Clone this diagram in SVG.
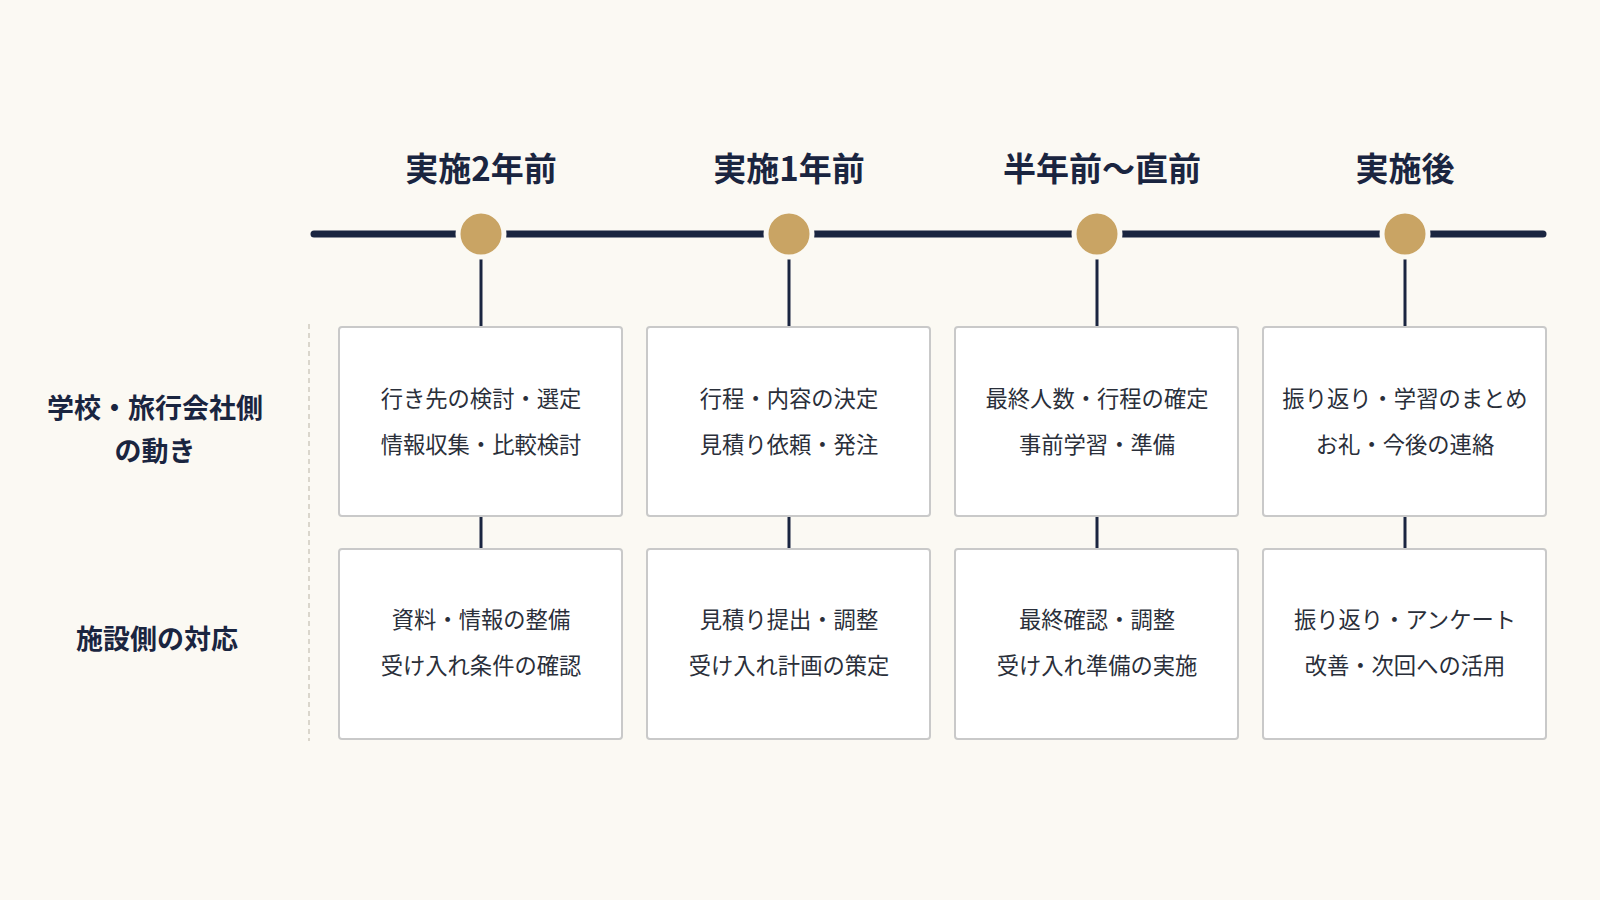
<svg xmlns="http://www.w3.org/2000/svg" width="1600" height="900" viewBox="0 0 1600 900">
<style>
text{font-family:"Noto Sans CJK JP","Noto Sans",sans-serif;text-anchor:middle;dominant-baseline:central}
.h{font-size:33px;font-weight:700;fill:#1a2540}
.l{font-size:27px;font-weight:700;fill:#1a2540}
.t{font-size:22.3px;fill:#2a2f3a}
.box{fill:#fff;stroke:#c9c9c9;stroke-width:2}
.ln{stroke:#1a2540;stroke-width:3}
</style>
<rect width="1600" height="900" fill="#fbf9f3"/>
<g id="connectors">
<line x1="314" y1="234" x2="1543" y2="234" stroke="#1a2540" stroke-width="7" stroke-linecap="round"/>
<line class="ln" x1="481" y1="234" x2="481" y2="327"/><line class="ln" x1="789" y1="234" x2="789" y2="327"/><line class="ln" x1="1097" y1="234" x2="1097" y2="327"/><line class="ln" x1="1405" y1="234" x2="1405" y2="327"/>
<line class="ln" x1="481" y1="516" x2="481" y2="549"/><line class="ln" x1="789" y1="516" x2="789" y2="549"/><line class="ln" x1="1097" y1="516" x2="1097" y2="549"/><line class="ln" x1="1405" y1="516" x2="1405" y2="549"/>
<line x1="309" y1="324" x2="309" y2="741" stroke="#cfcac0" stroke-width="1.5" stroke-dasharray="5 4"/>
</g>
<g id="markers" fill="#c9a464" stroke="#fbf9f3" stroke-width="5">
<circle cx="481" cy="234" r="23"/><circle cx="789" cy="234" r="23"/><circle cx="1097" cy="234" r="23"/><circle cx="1405" cy="234" r="23"/>
</g>
<g id="headers">
<text class="h" x="481" y="167">実施2年前</text><text class="h" x="789" y="167">実施1年前</text><text class="h" x="1102" y="167">半年前～直前</text><text class="h" x="1405" y="167">実施後</text>
</g>
<g id="labels">
<text class="l" x="155" y="406">学校・旅行会社側</text><text class="l" x="155" y="449">の動き</text>
<text class="l" x="157" y="637">施設側の対応</text>
</g>
<g id="r1c1"><rect class="box" x="339" y="327" width="283" height="189" rx="3"/><text class="t" x="481" y="397">行き先の検討・選定</text><text class="t" x="481" y="443">情報収集・比較検討</text></g>
<g id="r1c2"><rect class="box" x="647" y="327" width="283" height="189" rx="3"/><text class="t" x="789" y="397">行程・内容の決定</text><text class="t" x="789" y="443">見積り依頼・発注</text></g>
<g id="r1c3"><rect class="box" x="955" y="327" width="283" height="189" rx="3"/><text class="t" x="1097" y="397">最終人数・行程の確定</text><text class="t" x="1097" y="443">事前学習・準備</text></g>
<g id="r1c4"><rect class="box" x="1263" y="327" width="283" height="189" rx="3"/><text class="t" x="1405" y="397">振り返り・学習のまとめ</text><text class="t" x="1405" y="443">お礼・今後の連絡</text></g>
<g id="r2c1"><rect class="box" x="339" y="549" width="283" height="190" rx="3"/><text class="t" x="481" y="618">資料・情報の整備</text><text class="t" x="481" y="664">受け入れ条件の確認</text></g>
<g id="r2c2"><rect class="box" x="647" y="549" width="283" height="190" rx="3"/><text class="t" x="789" y="618">見積り提出・調整</text><text class="t" x="789" y="664">受け入れ計画の策定</text></g>
<g id="r2c3"><rect class="box" x="955" y="549" width="283" height="190" rx="3"/><text class="t" x="1097" y="618">最終確認・調整</text><text class="t" x="1097" y="664">受け入れ準備の実施</text></g>
<g id="r2c4"><rect class="box" x="1263" y="549" width="283" height="190" rx="3"/><text class="t" x="1405" y="618">振り返り・アンケート</text><text class="t" x="1405" y="664">改善・次回への活用</text></g>
</svg>
